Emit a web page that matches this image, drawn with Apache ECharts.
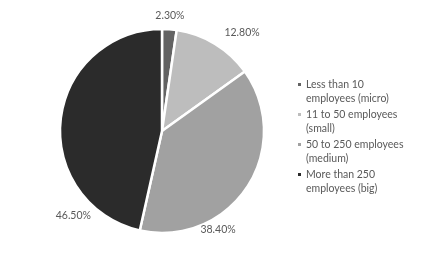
<!DOCTYPE html>
<html><head><meta charset="utf-8">
<script src="https://cdn.jsdelivr.net/npm/echarts@6/dist/echarts.min.js"></script>
<style>html,body{margin:0;padding:0;background:#fff}#c{width:427px;height:263px}</style>
</head><body><div id="c"></div>
<script>
const categories = ['Less than 10\nemployees (micro)', '11 to 50 employees\n(small)', '50 to 250 employees\n(medium)', 'More than 250\nemployees (big)'];
const values = [2.3, 12.8, 38.4, 46.5];
const labels = ['2.30%', '12.80%', '38.40%', '46.50%'];
const colors = ['#636363', '#bdbdbd', '#a1a1a1', '#2b2b2b'];
const labelOffsets = [[4, -62], [52, -52], [11, 69], [-35, 91]];

const chart = echarts.init(document.getElementById('c'), null, {renderer: 'canvas'});
chart.setOption({
  animation: false,
  color: colors,
  legend: {
    orient: 'vertical',
    left: 293, top: 72,
    itemWidth: 3, itemHeight: 29, itemGap: 1,
    icon: 'path://M0,0L3,0M0,6L3,6L3,9L0,9ZM0,29L3,29',
    itemStyle: {borderWidth: 0},
    textStyle: {fontFamily: 'Lato', fontSize: 10.5, color: '#595959', lineHeight: 14.5, padding: [0,0,0,0]},
    data: categories
  },
  series: [{
    type: 'pie',
    center: [162, 131],
    radius: 102,
    startAngle: 90,
    clockwise: true,
    itemStyle: {borderColor: '#fff', borderWidth: 2.5},
    label: {position: 'inside', fontFamily: 'Lato', fontSize: 10.5, color: '#595959'},
    labelLine: {show: false},
    emphasis: {disabled: true},
    data: categories.map((n, i) => ({
      name: n, value: values[i],
      label: {formatter: labels[i], offset: labelOffsets[i]}
    }))
  }]
});
</script></body></html>
